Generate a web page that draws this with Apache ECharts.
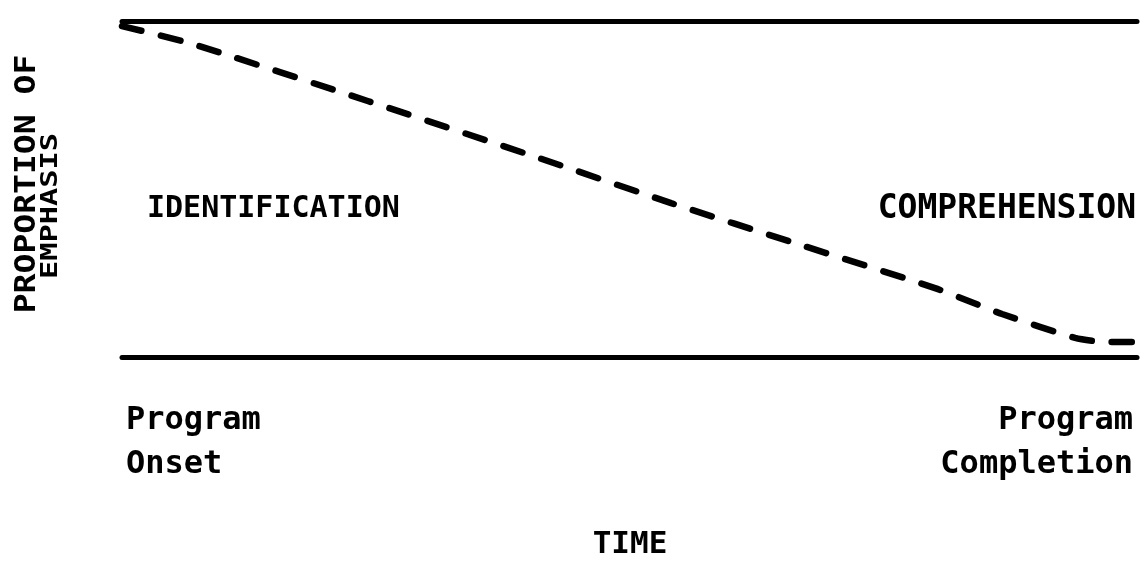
<!DOCTYPE html>
<html><head><meta charset="utf-8">
<script src="https://cdn.jsdelivr.net/npm/echarts@6/dist/echarts.min.js"></script>
<style>html,body{margin:0;padding:0;background:#fff}#c{width:1140px;height:562px}</style>
</head><body><div id="c"></div>
<script>
// Data
const timePoints = [0, 6.9, 24.2, 41.1, 54.1, 66.6, 80.1, 86.7, 93.9, 96.8, 100];
const identificationShare = [0.985, 0.932, 0.762, 0.592, 0.458, 0.336, 0.205, 0.128, 0.057, 0.045, 0.045];
const timeTickValues = [0, 100];
const timeTickLabels = ['Program\nOnset', 'Program\nCompletion'];
const regionLabels = ['IDENTIFICATION', 'COMPREHENSION'];
const xTitle = 'TIME';
const yTitleLines = ['PROPORTION OF', 'EMPHASIS'];

const FF = '"DejaVu Sans Mono", "Liberation Mono", monospace';
const chart = echarts.init(document.getElementById('c'), null, {renderer: 'canvas'});
const axisCommon = {
  type: 'value', min: 0, max: 100,
  axisTick: {show: false}, splitLine: {show: false},
  axisLine: {show: true, lineStyle: {color: '#000', width: 5}}
};
chart.setOption({
  animation: false,
  backgroundColor: '#fff',
  grid: {left: 122, right: 0, top: 21, bottom: 205},
  xAxis: [
    Object.assign({}, axisCommon, {
      position: 'bottom',
      axisLabel: {
        customValues: timeTickValues,
        formatter: v => timeTickLabels[timeTickValues.indexOf(v)] || '',
        fontFamily: FF, fontSize: 32, fontWeight: 'bold', color: '#000',
        lineHeight: 44, margin: 42, padding: [0, 4, 0, 4],
        alignMinLabel: 'left', alignMaxLabel: 'right'
      }
    }),
    Object.assign({}, axisCommon, {position: 'top', axisLabel: {show: false}})
  ],
  yAxis: {type: 'value', min: 0, max: 1, show: false},
  series: [{
    type: 'line',
    xAxisIndex: 0,
    data: timePoints.map((t, i) => [t, identificationShare[i]]),
    symbol: 'none',
    smooth: 0.2,
    clip: false,
    lineStyle: {color: '#000', width: 6.5, type: [20, 20], cap: 'round'}
  }],
  graphic: [
    {type: 'text', x: 147, y: 209, style: {text: regionLabels[0], font: 'bold 30px ' + FF, fill: '#000', textAlign: 'left', textVerticalAlign: 'middle'}},
    {type: 'text', x: 1136, y: 209, style: {text: regionLabels[1], font: 'bold 33px ' + FF, fill: '#000', textAlign: 'right', textVerticalAlign: 'middle'}},
    {type: 'text', x: 630, y: 545, style: {text: xTitle, font: 'bold 31px ' + FF, fill: '#000', textAlign: 'center', textVerticalAlign: 'middle'}},
    {type: 'text', x: 28, y: 184, rotation: Math.PI / 2, scaleX: 1.18, scaleY: 1, style: {text: yTitleLines[0], font: 'bold 28px ' + FF, fill: '#000', textAlign: 'center', textVerticalAlign: 'middle'}},
    {type: 'text', x: 51, y: 206, rotation: Math.PI / 2, scaleX: 1.32, scaleY: 1, style: {text: yTitleLines[1], font: 'bold 23px ' + FF, fill: '#000', textAlign: 'center', textVerticalAlign: 'middle'}}
  ]
});
</script>
</body></html>
